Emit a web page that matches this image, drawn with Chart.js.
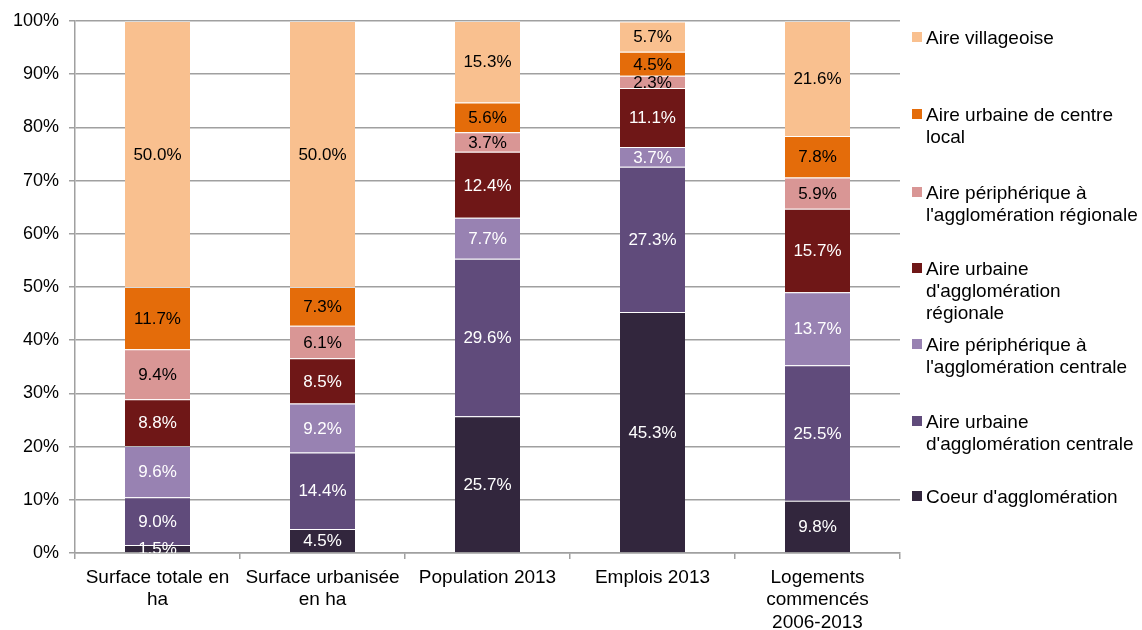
<!DOCTYPE html>
<html>
<head>
<meta charset="utf-8">
<script src="https://cdn.jsdelivr.net/npm/chart.js@4.4.1/dist/chart.umd.min.js"></script>
<style>
  html, body { margin: 0; padding: 0; background: #fff; }
  #wrap { position: relative; width: 1142px; height: 630px; }
  #legend { position: absolute; left: 0; top: 0; width: 1142px; height: 630px; pointer-events: none; }
  .item { position: absolute; left: 912px; font: 19px "Liberation Sans", Arial, sans-serif; color: #000; line-height: 22px; }
  .sw { position: absolute; left: 0; width: 10px; height: 10px; }
  .txt { position: absolute; left: 14px; white-space: nowrap; }
</style>
</head>
<body>
<div id="wrap">
  <canvas id="c" width="1142" height="630"></canvas>
  <div id="legend"></div>
</div>
<script>
// Categories (x axis), multi-line where the label wraps
const categories = [
  ["Surface totale en", "ha"],
  ["Surface urbanisée", "en ha"],
  "Population 2013",
  "Emplois 2013",
  ["Logements", "commencés", "2006-2013"]
];

// Series names, bottom of the stack first
const seriesNames = [
  "Coeur d'agglomération",
  "Aire urbaine d'agglomération centrale",
  "Aire périphérique à l'agglomération centrale",
  "Aire urbaine d'agglomération régionale",
  "Aire périphérique à l'agglomération régionale",
  "Aire urbaine de centre local",
  "Aire villageoise"
];

// Legend text, split into lines as it wraps
const legendLines = [
  ["Coeur d'agglomération"],
  ["Aire urbaine", "d'agglomération centrale"],
  ["Aire périphérique à", "l'agglomération centrale"],
  ["Aire urbaine", "d'agglomération", "régionale"],
  ["Aire périphérique à", "l'agglomération régionale"],
  ["Aire urbaine de centre", "local"],
  ["Aire villageoise"]
];

// Shares (%) per category
const coeur              = [1.5, 4.5, 25.7, 45.3, 9.8];
const urbaineCentrale    = [9.0, 14.4, 29.6, 27.3, 25.5];
const periphCentrale     = [9.6, 9.2, 7.7, 3.7, 13.7];
const urbaineRegionale   = [8.8, 8.5, 12.4, 11.1, 15.7];
const periphRegionale    = [9.4, 6.1, 3.7, 2.3, 5.9];
const centreLocal        = [11.7, 7.3, 5.6, 4.5, 7.8];
const villageoise        = [50.0, 50.0, 15.3, 5.7, 21.6];

// Y axis tick values
const yTicks = [0, 10, 20, 30, 40, 50, 60, 70, 80, 90, 100];

const seriesValues = [coeur, urbaineCentrale, periphCentrale, urbaineRegionale, periphRegionale, centreLocal, villageoise];
const fillColors  = ['#32263d', '#604b7b', '#9882b2', '#6f1717', '#d99695', '#e46c0a', '#f9c08f'];
const labelColors = ['#fff', '#fff', '#fff', '#fff', '#000', '#000', '#000'];

const FONT = '"Liberation Sans", Arial, Helvetica, sans-serif';
const LINE = '#a0a0a0';

// Value labels centred in every segment, clipped to the plot area
const segmentLabels = {
  id: 'segmentLabels',
  afterDatasetsDraw(chart) {
    const { ctx, chartArea: a } = chart;
    ctx.save();
    ctx.beginPath();
    ctx.rect(a.left, a.top, a.right - a.left, a.bottom - a.top);
    ctx.clip();
    ctx.font = '17px ' + FONT;
    ctx.textAlign = 'center';
    ctx.textBaseline = 'middle';
    chart.data.datasets.forEach((ds, i) => {
      const meta = chart.getDatasetMeta(i);
      meta.data.forEach((el, j) => {
        const v = ds.data[j];
        ctx.fillStyle = labelColors[i];
        ctx.fillText(v.toFixed(1) + '%', el.x, (el.y + el.base) / 2 + 1);
      });
    });
    ctx.restore();
  }
};

const chart = new Chart(document.getElementById('c').getContext('2d'), {
  type: 'bar',
  data: {
    labels: categories,
    datasets: seriesNames.map((name, i) => ({
      label: name,
      data: seriesValues[i],
      backgroundColor: fillColors[i],
      borderWidth: { top: 1, bottom: 0, left: 0, right: 0 },
      borderColor: 'rgba(255,255,255,0.22)',
      borderSkipped: false,
      barPercentage: 1,
      categoryPercentage: 0.394
    }))
  },
  options: {
    responsive: false,
    animation: false,
    layout: { padding: { top: 21, right: 242, left: 0, bottom: 0 } },
    plugins: { legend: { display: false }, tooltip: { enabled: false } },
    scales: {
      x: {
        stacked: true,
        grid: { drawOnChartArea: false, drawTicks: true, tickLength: 6, color: LINE, lineWidth: 1.5, offset: true },
        border: { color: LINE, width: 1.5 },
        ticks: { color: '#000', font: { family: FONT, size: 19, lineHeight: 1.2 }, padding: 7, maxRotation: 0, autoSkip: false },
        afterFit(s) { s.height = 77; }
      },
      y: {
        stacked: true,
        min: 0,
        max: 100,
        afterBuildTicks(s) { s.ticks = yTicks.map(v => ({ value: v })); },
        ticks: { color: '#000', font: { family: FONT, size: 18 }, padding: 10, callback: v => v + '%' },
        grid: { color: LINE, lineWidth: 1.5, tickLength: 6 },
        border: { color: LINE, width: 1.5 },
        afterFit(s) { s.width = 75; }
      }
    }
  },
  plugins: [segmentLabels]
});

// Legend on the right, top of the stack first
const legendCenters = [38, 115, 193, 269, 345, 422, 497];
const legendEl = document.getElementById('legend');
for (let k = 0; k < seriesNames.length; k++) {
  const i = seriesNames.length - 1 - k;
  const item = document.createElement('div');
  item.className = 'item';
  item.style.top = (legendCenters[k] - 11) + 'px';
  const sw = document.createElement('div');
  sw.className = 'sw';
  sw.style.background = fillColors[i];
  sw.style.top = '5px';
  const txt = document.createElement('div');
  txt.className = 'txt';
  txt.innerHTML = legendLines[i].map(t => t.replace(/&/g, '&amp;').replace(/</g, '&lt;')).join('<br>');
  item.appendChild(sw);
  item.appendChild(txt);
  legendEl.appendChild(item);
}
</script>
</body>
</html>
